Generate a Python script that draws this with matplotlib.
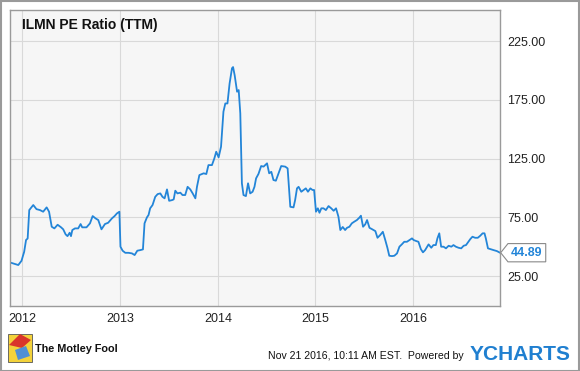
import matplotlib
matplotlib.use("Agg")
import matplotlib.pyplot as plt
import matplotlib.dates as mdates
import pandas as pd
from matplotlib.path import Path
from matplotlib.patches import Rectangle, Polygon

# ILMN PE ratio (TTM)
dates = [
    "2011-11-20", "2011-12-05", "2011-12-17", "2011-12-29", "2012-01-08", "2012-01-15",
    "2012-01-21", "2012-01-27", "2012-02-01", "2012-02-11", "2012-02-23", "2012-03-07",
    "2012-03-19", "2012-04-01", "2012-04-10", "2012-04-20", "2012-04-30", "2012-05-12",
    "2012-05-25", "2012-06-02", "2012-06-11", "2012-06-18", "2012-06-26", "2012-07-01",
    "2012-07-06", "2012-07-16", "2012-07-28", "2012-08-06", "2012-08-12", "2012-08-28",
    "2012-09-10", "2012-09-20", "2012-10-01", "2012-10-11", "2012-10-23", "2012-11-05",
    "2012-11-17", "2012-12-01", "2012-12-11", "2012-12-20", "2012-12-29", "2013-01-02",
    "2013-01-10", "2013-01-20", "2013-02-01", "2013-02-14", "2013-02-24", "2013-03-06",
    "2013-03-17", "2013-03-27", "2013-04-02", "2013-04-11", "2013-04-17", "2013-04-23",
    "2013-05-02", "2013-05-12", "2013-05-21", "2013-05-31", "2013-06-08", "2013-06-16",
    "2013-06-25", "2013-07-03", "2013-07-14", "2013-07-20", "2013-07-26", "2013-08-03",
    "2013-08-14", "2013-08-22", "2013-09-01", "2013-09-10", "2013-09-20", "2013-09-29",
    "2013-10-09", "2013-10-15", "2013-10-24", "2013-11-09", "2013-11-19", "2013-11-27",
    "2013-12-10", "2013-12-19", "2013-12-26", "2014-01-04", "2014-01-13", "2014-01-22",
    "2014-01-29", "2014-02-06", "2014-02-14", "2014-02-23", "2014-02-27", "2014-03-05",
    "2014-03-14", "2014-03-20", "2014-03-26", "2014-04-01", "2014-04-07", "2014-04-16",
    "2014-04-24", "2014-05-02", "2014-05-11", "2014-05-18", "2014-05-24", "2014-06-02",
    "2014-06-12", "2014-06-21", "2014-07-04", "2014-07-12", "2014-07-20", "2014-07-28",
    "2014-08-06", "2014-08-16", "2014-08-26", "2014-09-10", "2014-09-19", "2014-09-29",
    "2014-10-11", "2014-10-17", "2014-10-24", "2014-10-30", "2014-11-09", "2014-11-18",
    "2014-11-26", "2014-12-04", "2014-12-13", "2014-12-21", "2014-12-27", "2015-01-03",
    "2015-01-10", "2015-01-16", "2015-01-23", "2015-01-31", "2015-02-09", "2015-02-19",
    "2015-03-01", "2015-03-10", "2015-03-19", "2015-03-28", "2015-04-04", "2015-04-13",
    "2015-04-22", "2015-04-29", "2015-05-08", "2015-05-17", "2015-05-26", "2015-06-05",
    "2015-06-14", "2015-06-20", "2015-06-28", "2015-07-06", "2015-07-13", "2015-07-22",
    "2015-07-31", "2015-08-13", "2015-08-21", "2015-08-31", "2015-09-10", "2015-09-19",
    "2015-09-27", "2015-10-04", "2015-10-14", "2015-10-23", "2015-11-02", "2015-11-11",
    "2015-11-20", "2015-11-29", "2015-12-09", "2015-12-19", "2015-12-28", "2016-01-03",
    "2016-01-13", "2016-01-21", "2016-01-30", "2016-02-07", "2016-02-15", "2016-02-28",
    "2016-03-09", "2016-03-17", "2016-03-26", "2016-04-01", "2016-04-08", "2016-04-15",
    "2016-04-24", "2016-05-03", "2016-05-13", "2016-05-23", "2016-05-31", "2016-06-09",
    "2016-06-19", "2016-06-29", "2016-07-08", "2016-07-17", "2016-07-26", "2016-08-02",
    "2016-08-10", "2016-08-20", "2016-08-30", "2016-09-08", "2016-09-17", "2016-09-24",
    "2016-09-29", "2016-10-07", "2016-10-15", "2016-10-28", "2016-11-09", "2016-11-21",
]
pe_ratio = [
    36.3, 35.2, 34.4, 38.0, 45.7, 55.7,
    57.0, 81.2, 82.6, 85.5, 82.0, 81.2,
    79.8, 83.5, 79.8, 67.0, 65.6, 68.7,
    66.5, 64.8, 60.5, 59.0, 61.9, 59.0,
    64.2, 65.6, 65.6, 69.3, 66.5, 66.5,
    69.9, 76.1, 74.1, 72.7, 64.8, 69.3,
    70.4, 74.1, 76.1, 78.4, 79.8, 50.0,
    46.6, 44.8, 44.8, 44.3, 42.9, 46.6,
    47.1, 47.7, 69.9, 75.0, 77.0, 82.7,
    85.5, 92.5, 94.8, 95.4, 92.5, 91.2,
    98.8, 89.1, 89.7, 90.3, 97.7, 95.4,
    96.0, 94.0, 94.0, 101.0, 98.8, 95.4,
    91.2, 101.0, 111.0, 112.5, 111.9, 119.5,
    119.5, 125.2, 130.9, 126.1, 135.2, 165.0,
    172.0, 172.0, 189.0, 202.0, 203.0, 196.0,
    182.0, 183.4, 163.6, 104.0, 94.0, 93.1,
    104.0, 95.4, 96.8, 101.0, 108.2, 112.0,
    118.7, 118.2, 121.0, 112.5, 113.8, 106.8,
    106.2, 112.5, 118.7, 118.2, 116.7, 84.0,
    83.5, 89.7, 99.7, 101.0, 96.8, 98.3,
    99.7, 96.8, 99.7, 98.3, 98.3, 79.8,
    82.7, 78.9, 82.7, 82.7, 81.2, 84.6,
    82.7, 80.6, 82.7, 75.5, 64.2, 66.8,
    64.2, 66.1, 67.0, 69.9, 71.3, 72.7,
    74.7, 76.4, 67.0, 69.0, 72.7, 66.1,
    65.0, 63.3, 57.6, 59.9, 62.7, 55.7,
    49.1, 42.3, 42.0, 42.3, 44.3, 50.0,
    52.0, 54.2, 54.2, 55.7, 57.1, 55.7,
    54.8, 54.2, 48.0, 45.2, 47.1, 52.0,
    49.1, 51.4, 51.4, 57.1, 61.4, 50.0,
    50.0, 48.6, 50.8, 50.0, 51.4, 50.0,
    49.1, 48.6, 50.8, 51.4, 54.2, 56.5,
    58.5, 57.6, 57.6, 59.3, 61.4, 61.4,
    57.1, 48.6, 48.0, 47.1, 46.3, 44.89,
]
y_ticks = [25, 75, 125, 175, 225]
x_years = ["2012", "2013", "2014", "2015", "2016"]

df = pd.DataFrame({"date": pd.to_datetime(dates), "pe": pe_ratio})

LINE = "#2385d8"
plt.rcParams["font.family"] = ["Liberation Sans", "DejaVu Sans"]

fig = plt.figure(figsize=(5.8, 3.71), dpi=100)
fig.patch.set_facecolor("white")
ax = fig.add_axes([10 / 580, 1 - 306 / 371, 490 / 580, 296 / 371])
ax.set_facecolor("#f6f6f6")

ax.plot(df["date"], df["pe"], color=LINE, linewidth=1.3, solid_joinstyle="round")

ax.set_xlim(pd.Timestamp("2011-11-16"), pd.Timestamp("2016-11-21"))
ax.set_ylim(-0.5, 251.6)

ax.set_xticks([pd.Timestamp(y + "-01-01") for y in x_years])
ax.xaxis.set_major_formatter(mdates.DateFormatter("%Y"))
ax.set_yticks(y_ticks)
ax.yaxis.tick_right()
ax.yaxis.set_major_formatter(plt.FuncFormatter(lambda v, _: f"{v:.2f}"))
ax.tick_params(axis="both", length=0, labelsize=9, labelcolor="#222222")
ax.tick_params(axis="y", pad=5)
ax.tick_params(axis="x", pad=5)
ax.grid(True, color="#d9d9d9", linewidth=0.8)
ax.set_axisbelow(True)
for s in ax.spines.values():
    s.set_color("#9a9a9a")
    s.set_linewidth(1.0)

ax.text(0.025, 0.95, "ILMN PE Ratio (TTM)", transform=ax.transAxes,
        fontsize=10, fontweight="bold", color="#111111", va="center", ha="left")


# last value tag with a notch pointing at the line end
def tag_box(x0, y0, width, height, mutation_size):
    pad = mutation_size * 0.25
    x0 -= pad
    y0 -= pad
    width += 2 * pad
    height += 2 * pad
    tip = height * 0.4
    verts = [(x0, y0), (x0 + width, y0), (x0 + width, y0 + height),
             (x0, y0 + height), (x0 - tip, y0 + height / 2), (x0, y0)]
    return Path(verts, closed=True)


last = df["pe"].iloc[-1]
ax.annotate(f"{last:.2f}", xy=(1, last), xycoords=("axes fraction", "data"),
            xytext=(8, 0), textcoords="offset points", ha="left", va="center",
            fontsize=9, fontweight="bold", color=LINE,
            bbox=dict(boxstyle=tag_box, fc="white", ec="#8a8a8a", lw=0.8),
            annotation_clip=False)

# figure frame
fig.add_artist(Rectangle((0.001, 0.001), 0.997, 0.997, transform=fig.transFigure,
                         fill=False, ec="#9a9a9a", lw=1.5))

# footer: logo mark + texts
fig.add_artist(Rectangle((8 / 580, 1 - 362 / 371), 24 / 580, 28 / 371,
                         transform=fig.transFigure, fc="#f3d23b", ec="#555555", lw=0.6))
fig.add_artist(Polygon([(9 / 580, 1 - 345 / 371), (20 / 580, 1 - 334 / 371),
                        (31 / 580, 1 - 340 / 371), (22 / 580, 1 - 348 / 371)],
                       closed=True, transform=fig.transFigure, fc="#d9352b", ec="none"))
fig.add_artist(Polygon([(15 / 580, 1 - 350 / 371), (26 / 580, 1 - 346 / 371),
                        (30 / 580, 1 - 356 / 371), (18 / 580, 1 - 360 / 371)],
                       closed=True, transform=fig.transFigure, fc="#4f8fd6", ec="none"))
fig.text(35 / 580, 1 - 349 / 371, "The Motley Fool", fontsize=7.8, fontweight="bold",
         color="#111111", va="center", ha="left")
fig.text(268 / 580, 1 - 356 / 371, "Nov 21 2016, 10:11 AM EST.  Powered by",
         fontsize=7.6, color="#111111", va="center", ha="left")
fig.text(470 / 580, 1 - 355 / 371, "YCHARTS", fontsize=15, fontweight="bold",
         color="#1f7fd0", va="center", ha="left")

fig.savefig("out.png", dpi=100)
